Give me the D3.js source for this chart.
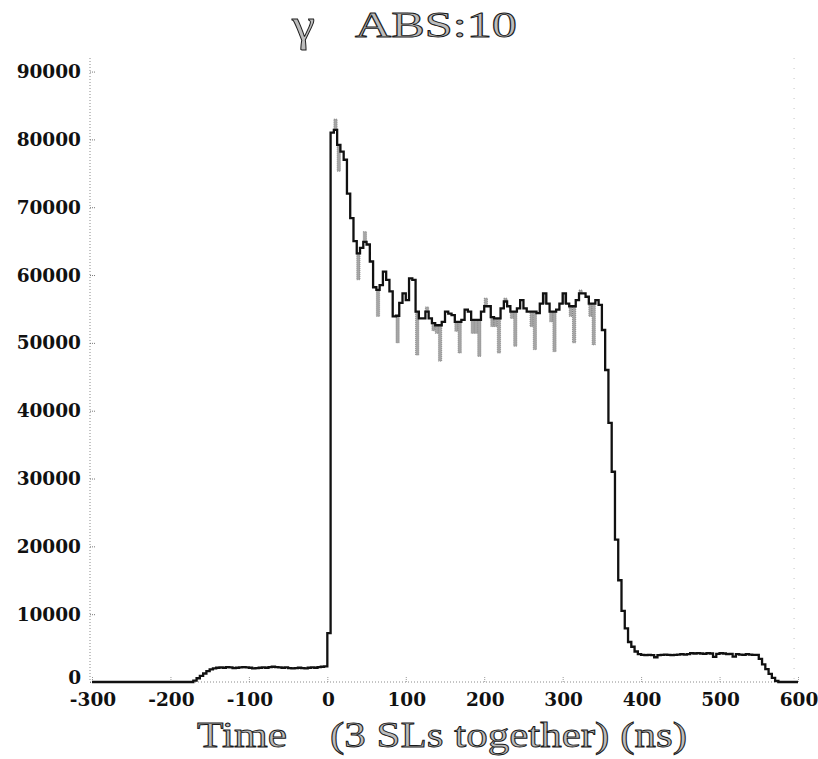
<!DOCTYPE html>
<html><head><meta charset="utf-8">
<script src="https://cdn.jsdelivr.net/npm/d3@7/dist/d3.min.js"></script>
<style>
html,body{margin:0;padding:0;background:#fff;}
svg{display:block;}
</style></head><body>
<svg id="chart" width="818" height="759"></svg>
<script>
// ---- text ----
const titleGreek = "γ";
const titleText = "ABS:10";
const xTitleA = "Time";
const xTitleB = "(3 SLs together) (ns)";

// ---- axes ----
const xTicks = [-300, -200, -100, 0, 100, 200, 300, 400, 500, 600];
const yTicks = [0, 10000, 20000, 30000, 40000, 50000, 60000, 70000, 80000, 90000];

// ---- histogram binning ----
const binStart = -300;
const binWidth = 25 / 6;   // ns

// bins from -300 ns up to 0 ns
const countsPre = [
  0,0,0,0,0,0,0,0,0,0, 0,0,0,0,0,0,0,0,0,0, 0,0,0,0,0,0,0,0,0,0, 0,
  200, 550, 900, 1250, 1600, 1850, 2000, 2100,
  2150,2100,2200,2150,2050,2100,2150,2200,2150,2100,
  2000,2050,2100,2150,2100,2200,2250,2200,2150,2100,
  2150,2050,2000,2050,2100,2050,2000,2100,2150,2100,
  2200,2250,2300
];
// bins from 0 ns: peak, plateau and falling edge
const countsMain = [
  7200, 81000, 81400, 79200, 78200, 77000, 72000, 68400, 65000, 63200,
  64000, 64900, 64500, 62000, 58200, 57800, 58500, 60500, 59300, 57600,
  53900, 54000, 55900, 57300, 56300, 59500, 59300, 54600, 53600, 53600,
  54600, 53600, 52900, 52600, 52600, 53100, 54600, 54300, 54100, 53100,
  53100, 53400, 54900, 54600, 53400, 53400, 53400, 54600, 55400, 55400,
  53800, 53600, 53600, 55100, 56100, 55400, 54600, 54600, 55100, 56300,
  55100, 54600, 54600, 54600, 54400, 55800, 57300, 55800, 54600, 54600,
  54900, 55800, 57300, 55800, 55400, 55400, 56300, 57300, 57300, 56800,
  55800, 55800, 56300, 55600, 51900, 46000, 38200, 31000, 21000, 15000,
  10500, 7900, 5900, 5200, 4500
];
// late tail
const countsTail = [
  4100,4000,3950,4000,3950,3650,3950,4000,4050,4000,3950,4000,4050,4100,4050,4100,
  4250,4200,4250,4200,4150,4250,4200,3700,4150,4250,4200,
  4100,4150,3750,4100,4050,4000,4100,4050,4000,4000,
  3400,2600,1900,1200,600,150,0,0,0,0,0,0
];

// second (grey) histogram where it differs from the black one: bin index counted from 0 ns
const altBins   = [2, 3, 9, 11, 15, 21, 27, 30, 32, 33, 34, 39, 40, 44, 45, 46, 48, 50, 51, 52,
                   54, 56, 57, 62, 63, 66, 68, 69, 72, 74, 75, 77, 80, 81];
const altValues = [83000, 75300, 59300, 66400, 53900, 50000, 48200, 55300, 51800, 51400, 47300,
                   51700, 48500, 51400, 51400, 48000, 56600, 52400, 52400, 48500,
                   56600, 53600, 49500, 52400, 49000, 55800, 53100, 48700, 55800, 53900, 50000,
                   57800, 53900, 49700];

// ---- build ----
const counts = countsPre.concat(countsMain, countsTail);
const bins = counts.map((v, i) => ({t0: binStart + i * binWidth, t1: binStart + (i + 1) * binWidth, v}));
const zeroIndex = countsPre.length;

const svg = d3.select("#chart");
const x = d3.scaleLinear().domain([-300, 600]).range([92, 798]);
const y = d3.scaleLinear().domain([0, 92000]).range([682, 58]);

// frame (dotted, scanned look)
const frame = svg.append("g").attr("stroke", "#8a8a8a").attr("stroke-width", 1)
  .attr("stroke-dasharray", "1,2").attr("fill", "none");
frame.append("line").attr("x1", x(-300) - 2).attr("x2", x(-300) - 2).attr("y1", y(92000)).attr("y2", y(0));
frame.append("line").attr("x1", x(595)).attr("x2", x(595)).attr("y1", y(92000)).attr("y2", y(0))
  .attr("stroke", "#c4c4c4").attr("stroke-dasharray", "1,9");
frame.append("line").attr("x1", x(-300) - 2).attr("x2", x(600)).attr("y1", y(0)).attr("y2", y(0));

// axes ticks (no labels, drawn below)
const gy = svg.append("g").attr("transform", `translate(${x(-300) - 2},0)`)
  .call(d3.axisLeft(y).tickValues(yTicks).tickSizeInner(-6).tickSizeOuter(0).tickFormat(() => ""));
gy.select(".domain").remove();
gy.selectAll(".tick line").attr("stroke", "#777").attr("stroke-dasharray", "1,1");

const gx = svg.append("g").attr("transform", `translate(0,${y(0)})`)
  .call(d3.axisBottom(x).tickValues(xTicks).tickSizeInner(-6).tickSizeOuter(0).tickFormat(() => ""));
gx.select(".domain").remove();
gx.selectAll(".tick line").attr("stroke", "#999").attr("stroke-dasharray", "1,1");

// grey histogram differences
const alts = altBins.map((b, i) => {
  const bin = bins[zeroIndex + b];
  return {t0: bin.t0, t1: bin.t1, lo: Math.min(bin.v, altValues[i]), hi: Math.max(bin.v, altValues[i])};
});
svg.append("g").selectAll("rect").data(alts).join("rect")
  .attr("x", d => x(d.t0))
  .attr("width", d => x(d.t1) - x(d.t0))
  .attr("y", d => y(d.hi))
  .attr("height", d => y(d.lo) - y(d.hi))
  .attr("fill", "#a6a6a6")
  .attr("stroke", "#6a6a6a")
  .attr("stroke-width", 0.6)
  .attr("stroke-dasharray", "1,1");

// main histogram (black steps)
const pts = bins.map(d => ({t: d.t0, v: d.v}));
pts.push({t: bins[bins.length - 1].t1, v: bins[bins.length - 1].v});
const line = d3.line().x(d => x(d.t)).y(d => y(d.v)).curve(d3.curveStepAfter);
svg.append("path").datum(pts)
  .attr("d", line)
  .attr("fill", "none")
  .attr("stroke", "#111")
  .attr("stroke-width", 2.3)
  .attr("stroke-linejoin", "miter");

// tick labels
const tickFont = "'DejaVu Serif', serif";
svg.append("g").selectAll("text").data(yTicks).join("text")
  .attr("x", 81)
  .attr("y", d => d === 0 ? y(d) + 2 : y(d) + 6.5)
  .attr("text-anchor", "end")
  .attr("font-family", tickFont)
  .attr("font-weight", "bold")
  .attr("font-size", 18.5)
  .attr("fill", "#111")
  .text(d => d);

svg.append("g").selectAll("text").data(xTicks).join("text")
  .attr("x", d => x(d) + 1)
  .attr("y", 706)
  .attr("text-anchor", "middle")
  .attr("font-family", tickFont)
  .attr("font-weight", "bold")
  .attr("font-size", 18.5)
  .attr("fill", "#111")
  .text(d => d);

// titles (outlined grey serif)
const serif = "'Liberation Serif', 'Times New Roman', serif";
function hollow(sel) {
  return sel.attr("font-family", serif).attr("fill", "#bcbcbc")
    .attr("stroke", "#1a1a1a").attr("stroke-width", 0.9);
}
hollow(svg.append("text")).attr("x", 292).attr("y", 40).attr("font-size", 46)
  .attr("textLength", 23).attr("lengthAdjust", "spacingAndGlyphs").text(titleGreek);
hollow(svg.append("text")).attr("x", 355).attr("y", 37).attr("font-size", 35)
  .attr("textLength", 162).attr("lengthAdjust", "spacingAndGlyphs").text(titleText);
hollow(svg.append("text")).attr("x", 197).attr("y", 747).attr("font-size", 35)
  .attr("textLength", 90).attr("lengthAdjust", "spacingAndGlyphs").text(xTitleA);
hollow(svg.append("text")).attr("x", 330).attr("y", 747).attr("font-size", 35)
  .attr("textLength", 357).attr("lengthAdjust", "spacingAndGlyphs").text(xTitleB);
</script>
</body></html>
